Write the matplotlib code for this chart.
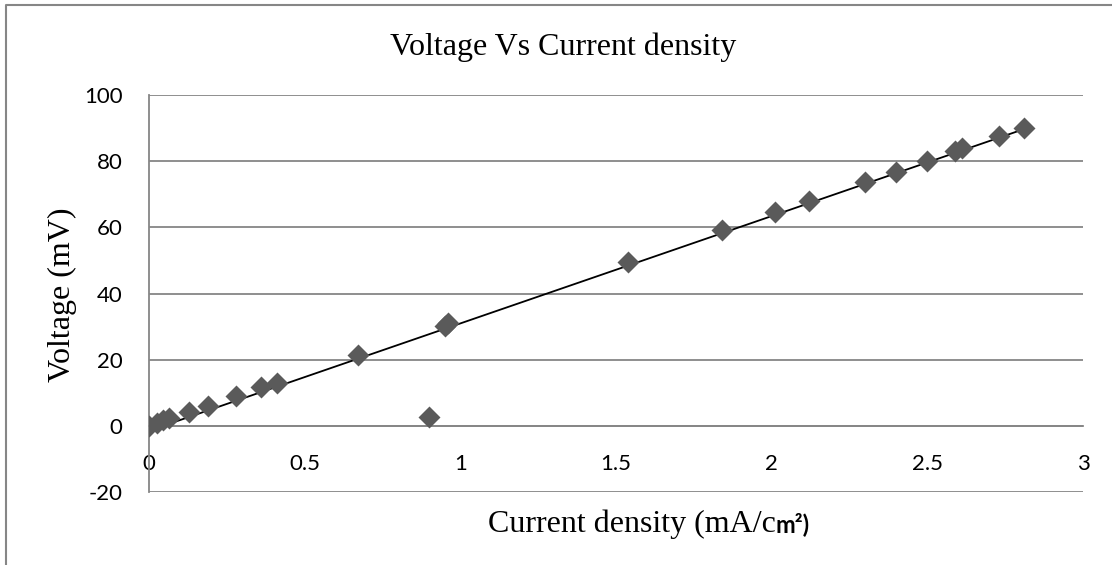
import numpy as np
import matplotlib
matplotlib.use('Agg')
import matplotlib.pyplot as plt
from matplotlib.lines import Line2D

# values
current = [0, 0.025, 0.045, 0.065, 0.13, 0.19, 0.28, 0.36, 0.41, 0.67, 0.90,
           0.95, 0.96, 1.54, 1.84, 2.01, 2.12, 2.30, 2.40, 2.50, 2.59, 2.61,
           2.73, 2.81]
voltage = [0, 1.0, 1.7, 2.4, 4.2, 6.0, 9.0, 11.6, 13.0, 21.4, 2.8,
           30.3, 31.2, 49.6, 59.2, 64.6, 68.1, 73.7, 76.8, 80.2, 83.2, 84.0,
           87.7, 90.0]
xticks = [0, 0.5, 1, 1.5, 2, 2.5, 3]
yticks = [-20, 0, 20, 40, 60, 80, 100]

W, H = 1112, 565
grid_c = '#868686'
serif = 'Liberation Serif'
sans = 'Lato'

fig = plt.figure(figsize=(W / 100, H / 100), dpi=100)
ax = fig.add_axes([149 / W, 1 - 492 / H, (1083 - 149) / W, (492 - 95) / H])

# linear trendline (least squares over the data, like the spreadsheet one)
k, b = np.polyfit(current, voltage, 1)
xs = np.array([min(current), max(current)])
ax.plot(xs, k * xs + b, color='black', lw=1.3, zorder=3)
ax.plot(current, voltage, 'D', color='#5a5a5a', markersize=11, mec='none', zorder=4)

ax.set_xlim(0, 3)
ax.set_ylim(-20, 100)
ax.set_xticks(xticks)
ax.set_xticklabels(['0', '0.5', '1', '1.5', '2', '2.5', '3'])
ax.set_yticks(yticks)
ax.set_yticklabels([str(t) for t in yticks])
ax.yaxis.grid(True, color=grid_c, lw=1.3)
ax.set_axisbelow(True)

for s in ['top', 'right']:
    ax.spines[s].set_visible(False)
ax.spines['bottom'].set_position(('data', 0))
ax.spines['bottom'].set_color(grid_c)
ax.spines['bottom'].set_linewidth(1.3)
ax.spines['left'].set_color(grid_c)
ax.spines['left'].set_linewidth(1.3)
ax.tick_params(axis='both', length=0, labelsize=16)
ax.tick_params(axis='x', pad=20)
ax.tick_params(axis='y', pad=19)
for lab in ax.get_xticklabels() + ax.get_yticklabels():
    lab.set_family(sans)

fig.text(563 / W, 1 - 55 / H, 'Voltage Vs Current density', family=serif,
         fontsize=23, ha='center', va='baseline')
fig.text(62 / W, 1 - 295 / H, 'Voltage (mV)', family=serif, fontsize=23,
         rotation=90, ha='center', va='center')
t1 = fig.text(488 / W, 1 - 532 / H, 'Current density (mA/c', family=serif,
              fontsize=23, ha='left', va='baseline')
fig.canvas.draw()
bb = t1.get_window_extent()
fig.text(bb.x1 / W, 1 - 532 / H, 'm²)', family=sans, fontweight='bold',
         fontsize=17, ha='left', va='baseline')

# chart area border
fy = 1 - 5 / H
fx = 5.5 / W
fig.add_artist(Line2D([fx, fx, 1], [0, fy, fy], transform=fig.transFigure,
                      color=grid_c, lw=1.5))

fig.savefig('out.png', dpi=100)
